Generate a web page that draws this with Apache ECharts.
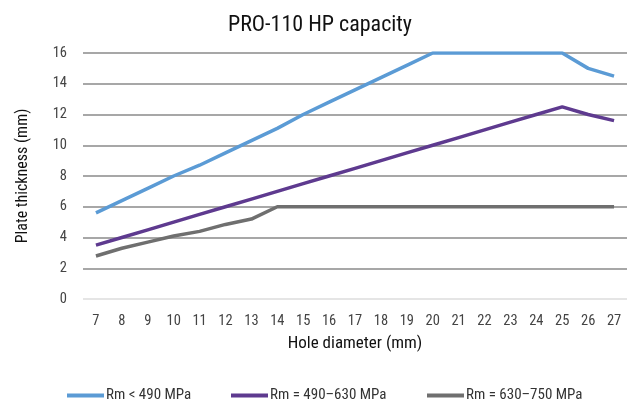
<!DOCTYPE html>
<html><head><meta charset="utf-8">
<script src="https://cdn.jsdelivr.net/npm/echarts@6/dist/echarts.min.js"></script>
<style>html,body{margin:0;padding:0;background:#fff}#c{width:640px;height:403px}</style>
</head><body><div id="c"></div>
<script>
const categories = ['7','8','9','10','11','12','13','14','15','16','17','18','19','20','21','22','23','24','25','26','27'];
const seriesNames = ['Rm < 490 MPa','Rm = 490–630 MPa','Rm = 630–750 MPa'];
const blue = [5.6,6.4,7.2,8.0,8.7,9.5,10.3,11.1,12.0,12.8,13.6,14.4,15.2,16,16,16,16,16,16,15.0,14.5];
const purple = [3.5,4.0,4.5,5.0,5.5,6.0,6.5,7.0,7.5,8.0,8.5,9.0,9.5,10.0,10.5,11.0,11.5,12.0,12.5,12.0,11.6];
const gray = [2.8,3.3,3.7,4.1,4.4,4.85,5.2,6,6,6,6,6,6,6,6,6,6,6,6,6,6];
const yTicks = [0,2,4,6,8,10,12,14,16];
const colors = ['#5b9bd5','#5e3a8f','#6f6f6f'];
const font = "'Liberation Sans Narrow','Roboto Condensed','Liberation Sans',sans-serif";
const chart = echarts.init(document.getElementById('c'));
const mk = (name, data, i) => ({name, type:'line', data, symbol:'none', smooth:false,
  lineStyle:{color:colors[i], width:3.5}, itemStyle:{color:colors[i]}, z: 3-i});
const legendLefts = [62, 226, 422];
const legends = seriesNames.map((n, i) => ({data:[n], left:legendLefts[i], top:383,
  itemWidth:37, itemHeight:4, itemGap:0, icon:'rect',
  textStyle:{fontFamily:font, fontSize:15, color:'#333', padding:[0,0,0,-3]}}));
chart.setOption({
  animation:false,
  title:{text:'PRO-110 HP capacity', left:'center', top:9, textStyle:{fontFamily:font, fontSize:22, fontWeight:'normal', color:'#111'}},
  legend:legends,
  grid:{left:83, right:13, top:53, bottom:104},
  xAxis:{type:'category', data:categories, boundaryGap:true,
    name:'Hole diameter (mm)', nameLocation:'middle', nameGap:36,
    nameTextStyle:{fontFamily:font, fontSize:17, color:'#111'},
    axisLine:{show:false}, axisTick:{show:false},
    axisLabel:{fontFamily:font, fontSize:14.5, color:'#444', margin:15, interval:0}},
  yAxis:{type:'value', min:0, max:16, interval:2,
    name:'Plate thickness (mm)', nameLocation:'middle', nameGap:52,
    nameTextStyle:{fontFamily:font, fontSize:16, color:'#111'},
    axisLine:{show:false}, axisTick:{show:false},
    axisLabel:{fontFamily:font, fontSize:14.5, color:'#444', margin:16},
    splitLine:{lineStyle:{color:['#dcdcdc','#8a8a8a','#8a8a8a','#8a8a8a','#8a8a8a','#8a8a8a','#8a8a8a','#8a8a8a','#8a8a8a'], width:1.5}}},
  series:[mk(seriesNames[0], blue, 0), mk(seriesNames[1], purple, 1), mk(seriesNames[2], gray, 2)]
});
</script></body></html>
